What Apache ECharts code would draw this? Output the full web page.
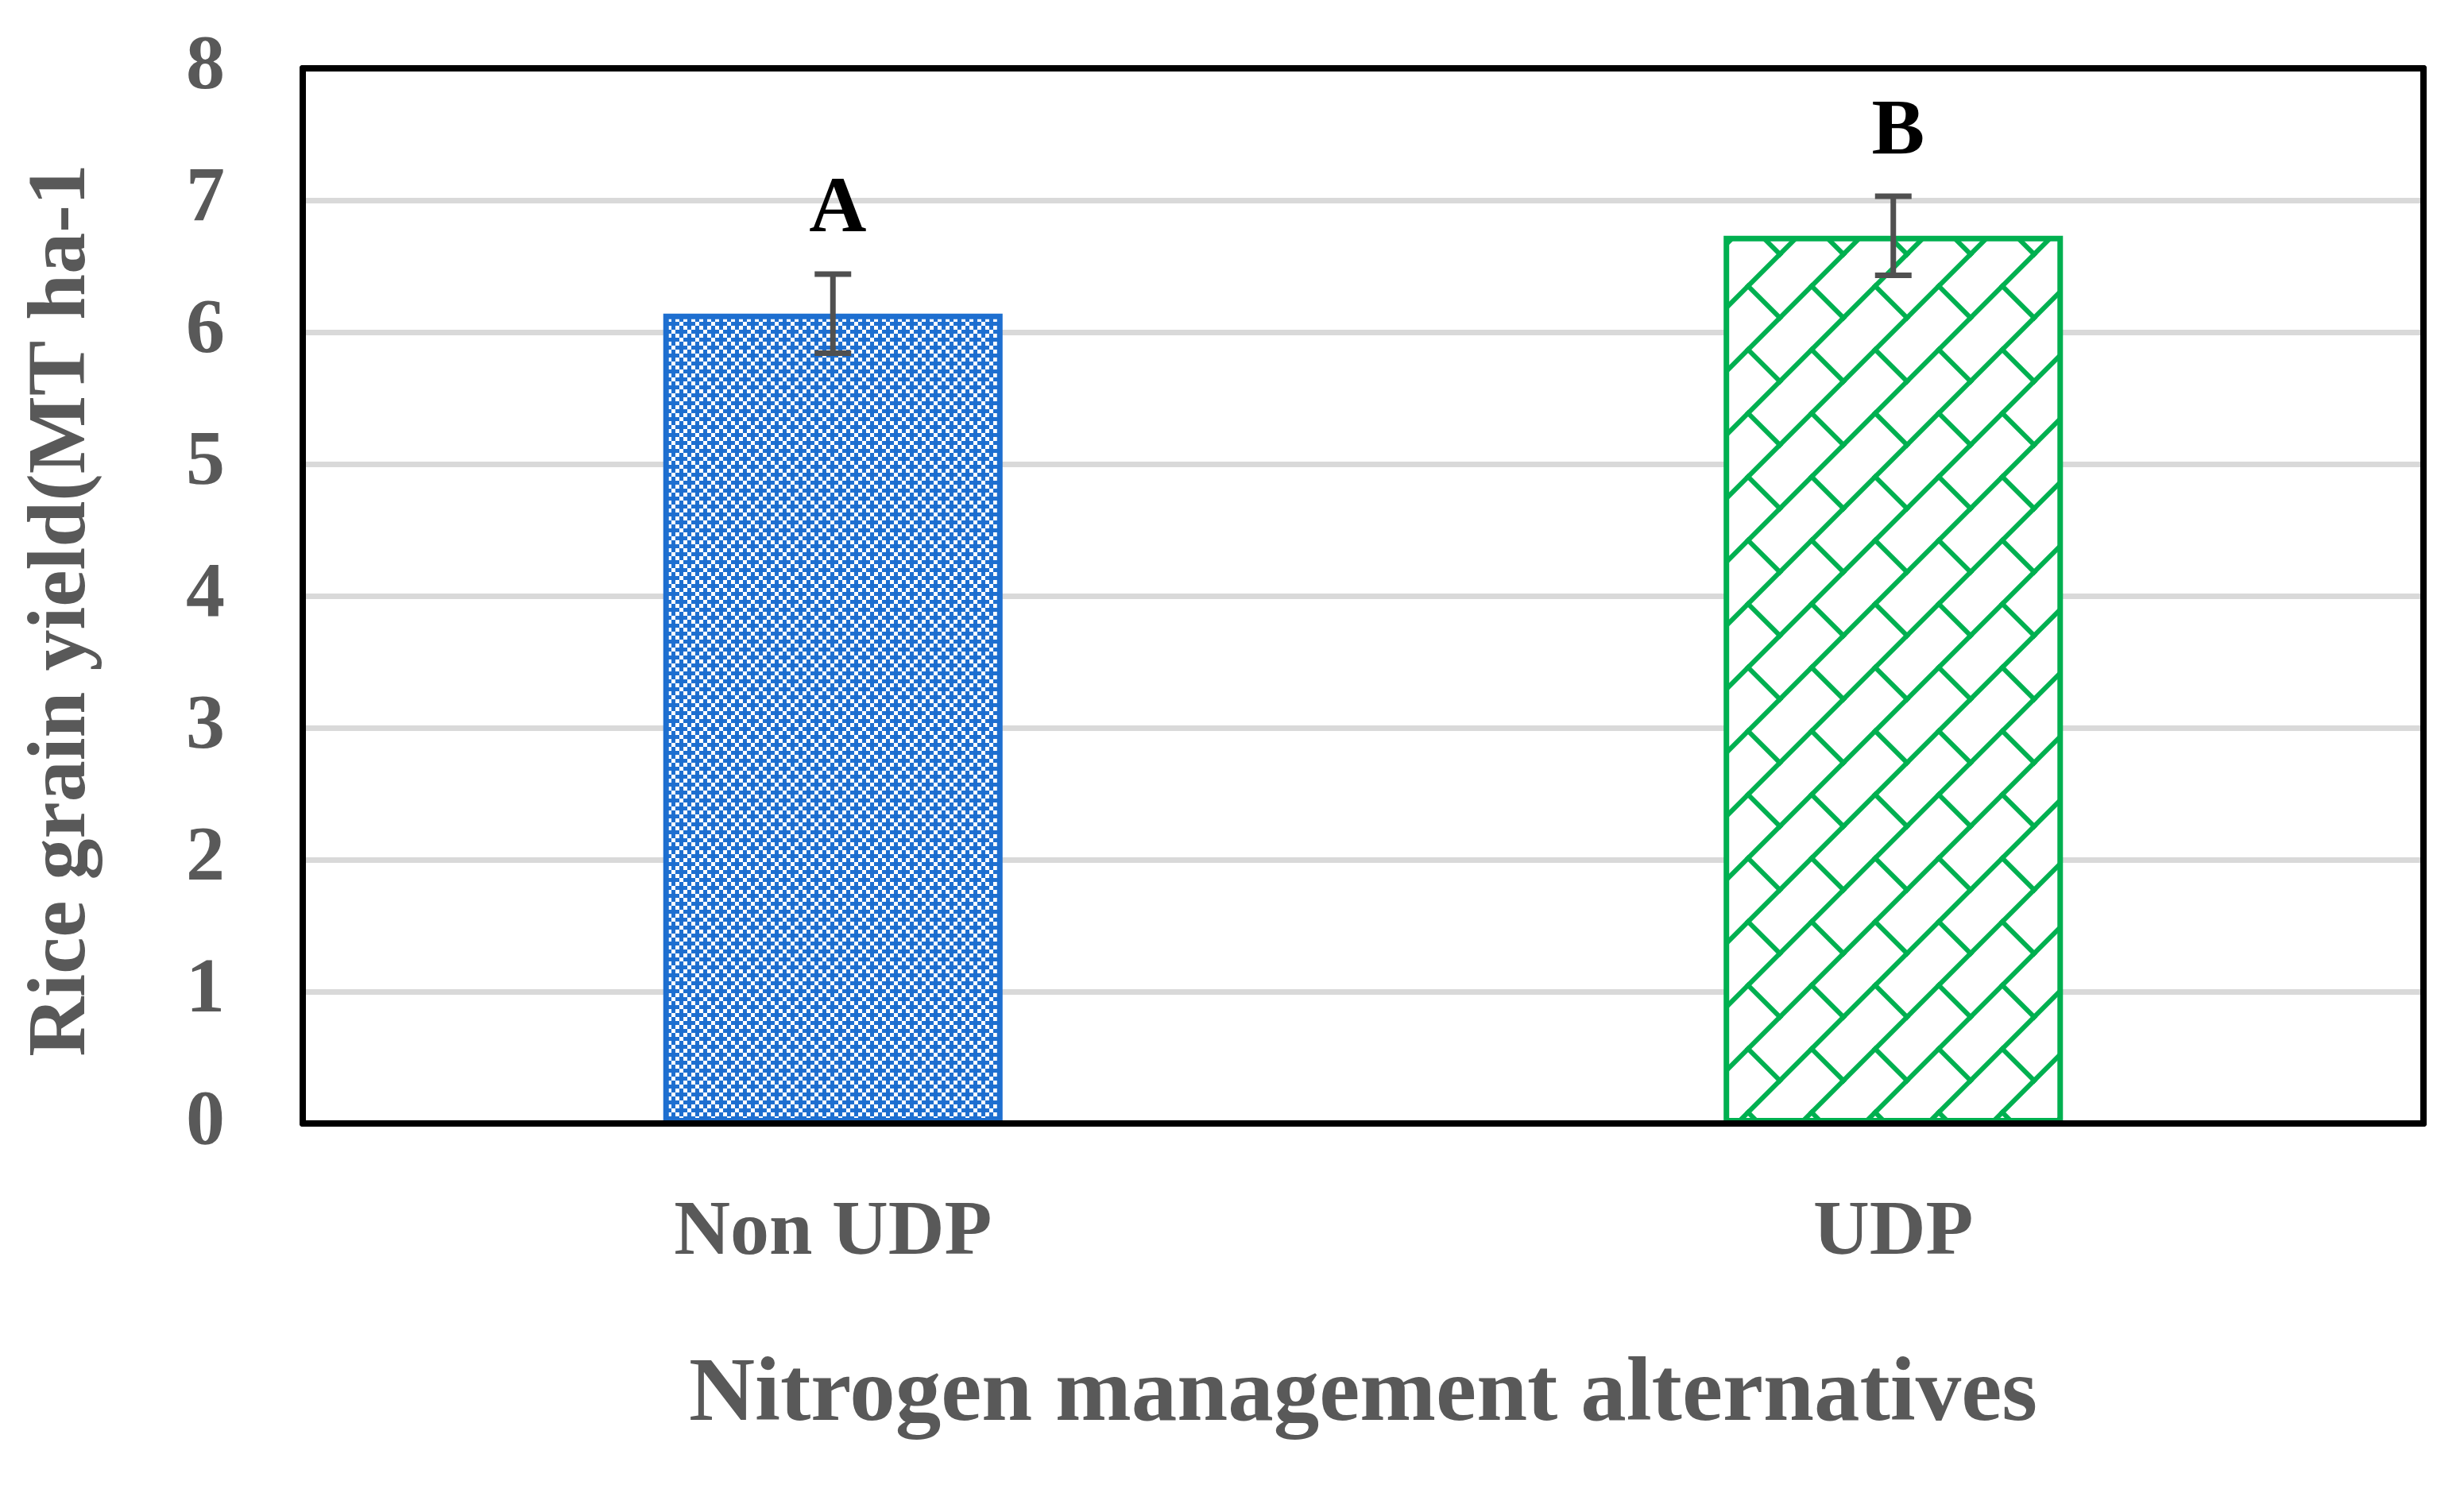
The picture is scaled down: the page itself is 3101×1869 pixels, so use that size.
<!DOCTYPE html>
<html>
<head>
<meta charset="utf-8">
<script src="https://cdn.jsdelivr.net/npm/echarts@6/dist/echarts.min.js"></script>
<style>
html,body{margin:0;padding:0;background:#fff;}
#chart{width:3101px;height:1869px;}
</style>
</head>
<body>
<div id="chart"></div>
<script>
// ---- data ----
const categories = ['Non UDP', 'UDP'];
const yieldValues = [6.14, 6.73];
const errorValues = [0.30, 0.30];
const groupLetters = ['A', 'B'];
const yMin = 0, yMax = 8, yInterval = 1;

// ---- patterns ----
function bluePattern() {
  const c = document.createElement('canvas');
  const s = 5; c.width = 4 * s; c.height = 4 * s;
  const g = c.getContext('2d');
  g.fillStyle = '#1E6FD0'; g.fillRect(0, 0, c.width, c.height);
  g.fillStyle = '#ffffff';
  [[0,0],[2,0],[0,2],[2,2],[1,3],[3,1]].forEach(p => g.fillRect(p[0]*s, p[1]*s, s, s));
  return c;
}
function greenPattern() {
  const c = document.createElement('canvas');
  const t = 80; c.width = t; c.height = t;
  const g = c.getContext('2d');
  g.fillStyle = '#ffffff'; g.fillRect(0, 0, t, t);
  g.strokeStyle = '#00B050'; g.lineWidth = 6; g.lineCap = 'square';
  for (let dx = -t; dx <= t; dx += t) {
    for (let dy = -t; dy <= t; dy += t) {
      g.beginPath(); g.moveTo(0 + dx, t + dy); g.lineTo(t + dx, 0 + dy); g.stroke();
      g.beginPath(); g.moveTo(t/2 + dx, t/2 + dy); g.lineTo(t + dx, t + dy); g.stroke();
    }
  }
  return c;
}
const barStyles = [
  { color: { image: bluePattern(), repeat: 'repeat' }, borderColor: '#1E6FD0', borderWidth: 7 },
  { color: { image: greenPattern(), repeat: 'repeat' }, borderColor: '#00B050', borderWidth: 7 }
];

const serif = '"Liberation Serif", "DejaVu Serif", serif';
const gray = '#595959';
const frameLine = { show: true, onZero: false, lineStyle: { color: '#000000', width: 8 } };

const chart = echarts.init(document.getElementById('chart'), null, { renderer: 'canvas' });
chart.setOption({
  animation: false,
  backgroundColor: '#ffffff',
  grid: { left: 381, right: 51, top: 86, bottom: 455 },
  xAxis: [
    {
      type: 'category',
      data: categories,
      z: 10,
      axisLine: frameLine,
      axisTick: { show: false },
      axisLabel: { color: gray, fontFamily: serif, fontWeight: 'bold', fontSize: 98, margin: 90 },
      name: 'Nitrogen management alternatives',
      nameLocation: 'middle',
      nameGap: 286,
      nameTextStyle: { color: gray, fontFamily: serif, fontWeight: 'bold', fontSize: 115 }
    },
    {
      type: 'category',
      data: categories,
      position: 'top',
      z: 10,
      axisLine: frameLine,
      axisTick: { show: false },
      axisLabel: { show: false },
      splitLine: { show: false }
    }
  ],
  yAxis: [
    {
      type: 'value',
      min: yMin, max: yMax, interval: yInterval,
      z: 0,
      axisLine: frameLine,
      axisTick: { show: false },
      splitLine: { show: true, lineStyle: { color: '#D9D9D9', width: 7 } },
      axisLabel: { color: gray, fontFamily: serif, fontWeight: 'bold', fontSize: 98, margin: 98 },
      name: 'Rice grain yield(MT ha-1',
      nameLocation: 'middle',
      nameRotate: 90,
      nameGap: 250,
      nameTextStyle: { color: gray, fontFamily: serif, fontWeight: 'bold', fontSize: 104, padding: [0, 36, 0, 0] }
    },
    {
      type: 'value',
      min: yMin, max: yMax, interval: yInterval,
      position: 'right',
      z: 10,
      axisLine: frameLine,
      axisTick: { show: false },
      axisLabel: { show: false },
      splitLine: { show: false }
    }
  ],
  series: [
    {
      type: 'bar',
      barWidth: '32%',
      z: 2,
      data: yieldValues.map((v, i) => ({ value: v, itemStyle: barStyles[i] }))
    },
    {
      type: 'custom',
      z: 5,
      data: categories.map((c, i) => [i, yieldValues[i], errorValues[i]]),
      renderItem: function (params, api) {
        const x = api.value(0), v = api.value(1), e = api.value(2);
        const top = api.coord([x, v + e]);
        const bot = api.coord([x, v - e]);
        const hw = 23;
        const ls = { stroke: '#505050', lineWidth: 7 };
        return {
          type: 'group',
          children: [
            { type: 'line', shape: { x1: top[0], y1: top[1], x2: bot[0], y2: bot[1] }, style: ls },
            { type: 'line', shape: { x1: top[0] - hw, y1: top[1], x2: top[0] + hw, y2: top[1] }, style: ls },
            { type: 'line', shape: { x1: bot[0] - hw, y1: bot[1], x2: bot[0] + hw, y2: bot[1] }, style: ls },
            { type: 'text', style: {
                text: groupLetters[params.dataIndex], x: top[0] + 6, y: top[1] - 30,
                align: 'center', verticalAlign: 'bottom', fill: '#000000',
                fontFamily: serif, fontWeight: 'bold', fontSize: 100 } }
          ]
        };
      }
    }
  ]
});
</script>
</body>
</html>
